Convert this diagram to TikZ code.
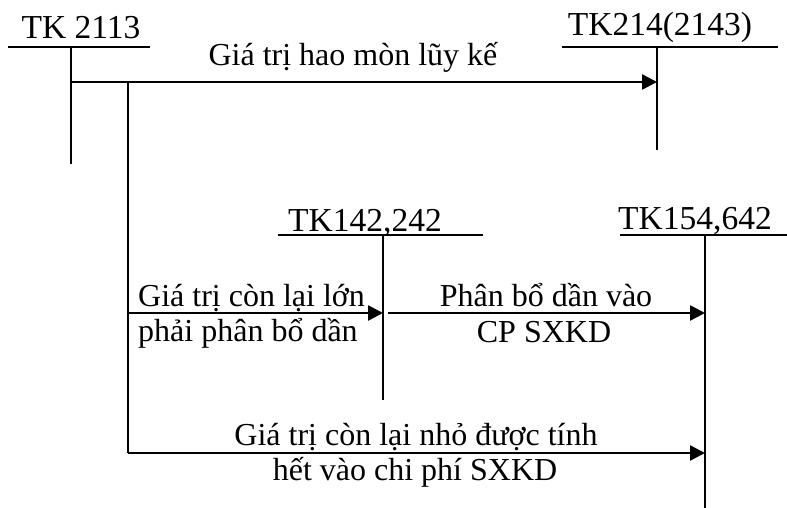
\documentclass[tikz,border=0pt]{standalone}
\usepackage{fontspec}
\setmainfont{Liberation Serif}
\usetikzlibrary{arrows.meta}
\begin{document}
\begin{tikzpicture}[x=1pt,y=-1pt,
  ln/.style={line width=2.6pt},
  arr/.style={line width=2.6pt,-{Triangle[length=15pt,width=15pt]}},
  lbl/.style={inner sep=0pt,anchor=base,font=\fontsize{32}{36}\selectfont},
  ttl/.style={inner sep=0pt,anchor=base,font=\fontsize{33.5}{38}\selectfont},
  lbll/.style={inner sep=0pt,anchor=base west,font=\fontsize{32}{36}\selectfont}]
\useasboundingbox (0,0) rectangle (787,508);
% account titles
\node[ttl] (tkA) at (81,39) {TK 2113};
\node[ttl] (tkB) at (660,36) {TK214(2143)};
\node[ttl] (tkC) at (365,231) {TK142,242};
\node[ttl] (tkD) at (695,229) {TK154,642};
% coordinates
\coordinate (a1) at (8,47);   \coordinate (a2) at (150,47);
\coordinate (av1) at (71,47); \coordinate (av2) at (71,164);
\coordinate (b1) at (562,47); \coordinate (b2) at (778,47);
\coordinate (bv1) at (657,47); \coordinate (bv2) at (657,150);
\coordinate (c1) at (278,235); \coordinate (c2) at (483,235);
\coordinate (cv1) at (383,235); \coordinate (cv2) at (383,400);
\coordinate (d1) at (620,235); \coordinate (d2) at (787,235);
\coordinate (dv1) at (705,235); \coordinate (dv2) at (705,508);
\coordinate (h1) at (71,82); \coordinate (h2) at (657,82);
\coordinate (s1) at (128,82); \coordinate (s2) at (128,453);
\coordinate (m1) at (128,313); \coordinate (m2) at (383,313);
\coordinate (n1) at (388,313); \coordinate (n2) at (705,313);
\coordinate (q1) at (128,453); \coordinate (q2) at (705,453);
% T accounts
\draw[ln] (a1) -- (a2); \draw[ln] (av1) -- (av2);
\draw[ln] (b1) -- (b2); \draw[ln] (bv1) -- (bv2);
\draw[ln] (c1) -- (c2); \draw[ln] (cv1) -- (cv2);
\draw[ln] (d1) -- (d2); \draw[ln] (dv1) -- (dv2);
% flows
\draw[arr] (h1) -- (h2);
\draw[ln] (s1) -- (s2);
\draw[arr] (m1) -- (m2);
\draw[arr] (n1) -- (n2);
\draw[arr] (q1) -- (q2);
% labels
\node[lbl] (l1) at (353,66) {Giá trị hao mòn lũy kế};
\node[lbll] (l2) at (138,306) {Giá trị còn lại lớn};
\node[lbll] (l3) at (138,341) {phải phân bổ dần};
\node[lbl] (l4) at (546,306) {Phân bổ dần vào};
\node[lbl] (l5) at (544,342) {CP SXKD};
\node[lbl] (l6) at (416,445) {Giá trị còn lại nhỏ được tính};
\node[lbl] (l7) at (415,480) {hết vào chi phí SXKD};
\end{tikzpicture}
\end{document}
